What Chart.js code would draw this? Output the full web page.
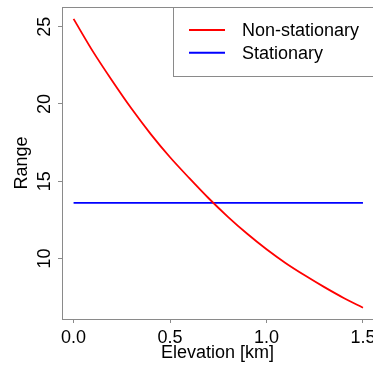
<!DOCTYPE html>
<html>
<head>
<meta charset="utf-8">
<script src="https://cdn.jsdelivr.net/npm/chart.js@4"></script>
<style>
  html, body { margin: 0; padding: 0; background: #fff; overflow: hidden; }
  #chart { display: block; }
</style>
</head>
<body>
<canvas id="chart" width="373" height="365"></canvas>
<script>
// data
const elevation = [0, 0.1, 0.2, 0.3, 0.4, 0.5, 0.6, 0.7, 0.8, 0.9, 1.0, 1.1, 1.2, 1.3, 1.4, 1.5];
const nonStationary = [25.5, 23.4, 21.5, 19.7, 18.05, 16.55, 15.2, 13.9, 12.7, 11.6, 10.6, 9.7, 8.9, 8.15, 7.45, 6.82];
const stationary = [13.6, 13.6, 13.6, 13.6, 13.6, 13.6, 13.6, 13.6, 13.6, 13.6, 13.6, 13.6, 13.6, 13.6, 13.6, 13.6];
const seriesNames = ['Non-stationary', 'Stationary'];
const xTicks = [0, 0.5, 1.0, 1.5];
const xTickLabels = ['0.0', '0.5', '1.0', '1.5'];
const yTicks = [10, 15, 20, 25];
const yTickLabels = ['10', '15', '20', '25'];

const FONT = "'Liberation Sans', Arial, sans-serif";
const frameColor = '#8a8a8a';

function pts(ys){
  return elevation.map((x, i) => ({x: x, y: ys[i]}));
}

// top frame line, rotated y labels and legend, drawn like base R graphics
const rStyle = {
  id: 'rStyle',
  afterDraw(chart){
    const ctx = chart.ctx;
    const a = chart.chartArea;
    const ys = chart.scales.y;
    ctx.save();
    ctx.strokeStyle = frameColor;
    ctx.lineWidth = 1;
    ctx.beginPath();
    ctx.moveTo(Math.round(a.left) + 0.5, Math.round(a.top) + 0.5);
    ctx.lineTo(a.right + 2, Math.round(a.top) + 0.5);
    ctx.stroke();

    // y tick labels, rotated
    ctx.fillStyle = '#000';
    ctx.font = '18px ' + FONT;
    ctx.textAlign = 'center';
    ctx.textBaseline = 'middle';
    yTicks.forEach((v, i) => {
      const py = ys.getPixelForValue(v);
      ctx.save();
      ctx.translate(a.left - 17, py);
      ctx.rotate(-Math.PI / 2);
      ctx.fillText(yTickLabels[i], 0, 0);
      ctx.restore();
    });

    // legend box (its right side runs off the picture)
    const lx = a.left + 111;
    const ly = a.top;
    const lh = 69;
    ctx.strokeStyle = frameColor;
    ctx.strokeRect(Math.round(lx) + 0.5, Math.round(ly) + 0.5, a.right - lx + 10, lh);
    chart.data.datasets.forEach((ds, i) => {
      const y = ly + 23 + i * 22.7;
      ctx.strokeStyle = ds.borderColor;
      ctx.lineWidth = 2;
      ctx.beginPath();
      ctx.moveTo(lx + 16, y);
      ctx.lineTo(lx + 52, y);
      ctx.stroke();
      ctx.fillStyle = '#000';
      ctx.textAlign = 'left';
      ctx.textBaseline = 'middle';
      ctx.fillText(ds.label, lx + 69, y + 1);
    });
    ctx.restore();
  }
};

new Chart(document.getElementById('chart'), {
  type: 'scatter',
  data: {
    datasets: [{
      label: seriesNames[0],
      data: pts(nonStationary),
      showLine: true,
      borderColor: '#ff0000',
      borderWidth: 1.8,
      pointRadius: 0,
      cubicInterpolationMode: 'monotone'
    }, {
      label: seriesNames[1],
      data: pts(stationary),
      showLine: true,
      borderColor: '#0000ff',
      borderWidth: 1.8,
      pointRadius: 0
    }]
  },
  options: {
    responsive: false,
    animation: false,
    devicePixelRatio: 1,
    layout: { padding: { top: 7, right: 0, left: 0, bottom: 0 } },
    plugins: {
      legend: { display: false },
      tooltip: { enabled: false }
    },
    scales: {
      x: {
        type: 'linear',
        min: -0.06,
        max: 1.552,
        afterBuildTicks(scale){ scale.ticks = xTicks.map(v => ({value: v})); },
        afterFit(scale){
          scale.height = 46;
          // let the last label run off the edge, as in the original
          scale.paddingRight = 0;
          scale.paddingLeft = 0;
        },
        grid: { drawOnChartArea: false, drawTicks: true, tickLength: 4, color: frameColor },
        border: { display: true, color: frameColor, width: 1 },
        ticks: {
          autoSkip: false,
          maxRotation: 0,
          padding: 4,
          color: '#000',
          font: { family: FONT, size: 18 },
          callback: (v, i) => xTickLabels[i]
        },
        title: {
          display: true,
          text: 'Elevation [km]',
          color: '#000',
          font: { family: FONT, size: 18 },
          padding: { top: 0, bottom: 1 }
        }
      },
      y: {
        type: 'linear',
        min: 6.09,
        max: 26.27,
        afterBuildTicks(scale){ scale.ticks = yTicks.map(v => ({value: v})); },
        afterFit(scale){
          scale.width = 62;
          scale.paddingTop = 0;
          scale.paddingBottom = 0;
        },
        grid: { drawOnChartArea: false, drawTicks: true, tickLength: 4, color: frameColor },
        border: { display: true, color: frameColor, width: 1 },
        ticks: { display: false },
        title: {
          display: true,
          text: 'Range',
          color: '#000',
          font: { family: FONT, size: 18 },
          padding: { top: 11, bottom: 0 }
        }
      }
    }
  },
  plugins: [rStyle]
});
</script>
</body>
</html>
